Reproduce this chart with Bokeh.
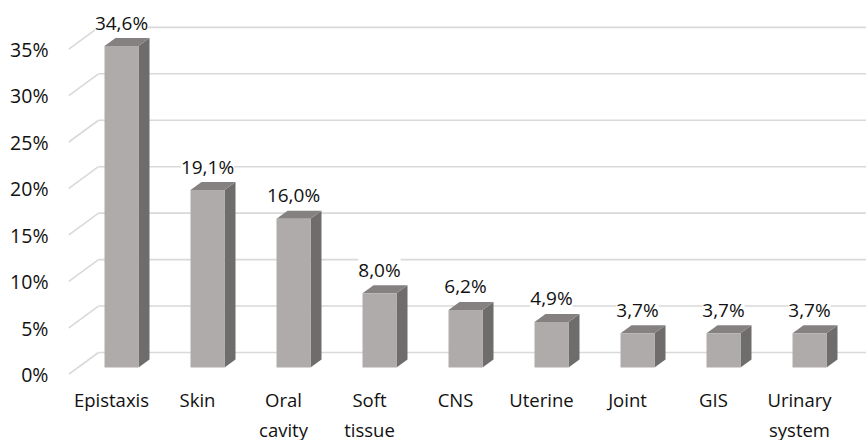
from bokeh.plotting import figure
from bokeh.models import ColumnDataSource, LabelSet, FixedTicker, CustomJSTickFormatter, Range1d
from bokeh.core.properties import value
from bokeh.embed import file_html
from bokeh.resources import INLINE

categories = ["Epistaxis", "Skin", "Oral\ncavity", "Soft\ntissue", "CNS", "Uterine", "Joint", "GIS", "Urinary\nsystem"]
values = [34.6, 19.1, 16.0, 8.0, 6.2, 4.9, 3.7, 3.7, 3.7]
y_ticks = [0, 5, 10, 15, 20, 25, 30, 35]

FONT = "Open Sans"
# layout in pixels
FW, FH = 798, 374
PX_X = 86.0          # pixels per category
PX_Y = 9.29          # pixels per percent
x_end = FW / PX_X
y_end = FH / PX_Y

def dx(px):
    return px / PX_X

def dy(px):
    return px / PX_Y

WALL_DX, WALL_DY = dx(30), dy(22)
BAR_SX, BAR_SY = dx(10), dy(7)
BAR_W = dx(34)
DEP_X, DEP_Y = dx(11), dy(8)

p = figure(frame_width=FW, frame_height=FH, output_backend="svg", toolbar_location=None,
           x_range=Range1d(0, x_end), y_range=Range1d(0, y_end),
           min_border_left=68, min_border_right=0, min_border_top=0, min_border_bottom=66)
p.outline_line_color = None
p.xgrid.visible = False
p.ygrid.visible = False
p.background_fill_color = "white"
p.border_fill_color = "white"

# walls: back gridlines and left side diagonals
for t in y_ticks:
    p.line([WALL_DX, x_end], [t + WALL_DY, t + WALL_DY], line_color="#d9d9d9", line_width=1.6)
    p.line([0, WALL_DX], [t, t + WALL_DY], line_color="#d9d9d9", line_width=1.6)

# bars
front_xs, front_ys, top_xs, top_ys, side_xs, side_ys = [], [], [], [], [], []
lab_x, lab_y, lab_t = [], [], []
for i, v in enumerate(values):
    x0 = i + 0.5 - BAR_W / 2 + BAR_SX
    x1 = x0 + BAR_W
    yb = BAR_SY
    yt = v + BAR_SY
    front_xs.append([x0, x1, x1, x0]); front_ys.append([yb, yb, yt, yt])
    top_xs.append([x0, x1, x1 + DEP_X, x0 + DEP_X]); top_ys.append([yt, yt, yt + DEP_Y, yt + DEP_Y])
    side_xs.append([x1, x1 + DEP_X, x1 + DEP_X, x1]); side_ys.append([yb, yb + DEP_Y, yt + DEP_Y, yt])
    lab_x.append(i + 0.5 + BAR_SX)
    lab_y.append(yt + dy(16.5))
    lab_t.append(("%.1f%%" % v).replace(".", ","))

p.patches(side_xs, side_ys, fill_color="#6f6c6c", line_color=None)
p.patches(top_xs, top_ys, fill_color="#858181", line_color=None)
p.patches(front_xs, front_ys, fill_color="#afabab", line_color=None)

src = ColumnDataSource(dict(x=lab_x, y=lab_y, t=lab_t))
labels = LabelSet(x="x", y="y", text="t", source=src, text_align="center", text_baseline="alphabetic",
                  text_font=value(FONT), text_font_size=value("19px"), text_color="#111111",
                  background_fill_color="white")
p.add_layout(labels)

# axes
p.yaxis.ticker = FixedTicker(ticks=y_ticks)
p.yaxis.formatter = CustomJSTickFormatter(code="return tick + '%';")
p.yaxis.axis_line_color = None
p.yaxis.major_tick_line_color = None
p.yaxis.minor_tick_line_color = None
p.yaxis.major_label_standoff = 14
p.yaxis.major_label_text_font = FONT
p.yaxis.major_label_text_font_size = "19.5px"
p.yaxis.major_label_text_color = "#111111"

tick_pos = [i + 0.5 for i in range(len(categories))]
p.xaxis.ticker = FixedTicker(ticks=tick_pos)
p.xaxis.major_label_overrides = {tp: c for tp, c in zip(tick_pos, categories)}
p.xaxis.axis_line_color = None
p.xaxis.major_tick_line_color = None
p.xaxis.minor_tick_line_color = None
p.xaxis.major_label_standoff = 6
p.xaxis.major_label_text_font = FONT
p.xaxis.major_label_text_font_size = "18.5px"
p.xaxis.major_label_text_color = "#111111"

open("out.html", "w").write(file_html(p, INLINE))
